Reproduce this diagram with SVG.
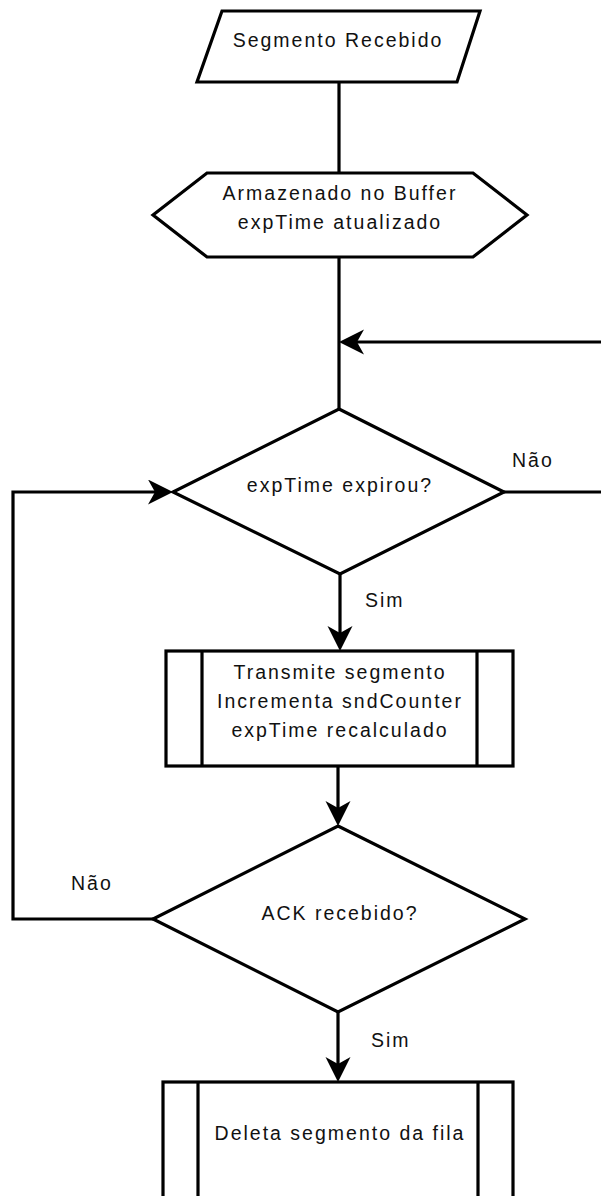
<svg xmlns="http://www.w3.org/2000/svg" width="601" height="1196" viewBox="0 0 601 1196">
<defs>
<style>
.shape{fill:#fff;stroke:#000;stroke-width:3.2;stroke-linejoin:miter}
.ln{fill:none;stroke:#000;stroke-width:3.2}
.t{font-family:"Liberation Sans",Arial,sans-serif;font-size:19.5px;letter-spacing:2px;fill:#111}
.c{text-anchor:middle}
</style>
<marker id="arr" markerUnits="userSpaceOnUse" markerWidth="26" markerHeight="26" refX="15" refY="12.5" orient="auto">
<path d="M0,0 L25,12.5 L0,25 L7,12.5 z" fill="#000"/>
</marker>
</defs>
<g id="connectors">
<path class="ln" d="M339,82 V173"/>
<path class="ln" d="M339,257 V409"/>
<path class="ln" d="M601,342 H349" marker-end="url(#arr)"/>
<path class="ln" d="M504,492 H601"/>
<path class="ln" d="M340,574 V641" marker-end="url(#arr)"/>
<path class="ln" d="M338,766 V816" marker-end="url(#arr)"/>
<path class="ln" d="M153,919 H13 V492 H163" marker-end="url(#arr)"/>
<path class="ln" d="M338,1012 V1072" marker-end="url(#arr)"/>
</g>
<g id="labels">
<text class="t" x="512" y="467">Não</text>
<text class="t" x="365" y="607">Sim</text>
<text class="t" x="71" y="890">Não</text>
<text class="t" x="371" y="1047">Sim</text>
</g>
<g id="start">
<polygon class="shape" points="222,11 480,11 457,82 197,82"/>
<text class="t c" x="338" y="47">Segmento Recebido</text>
</g>
<g id="buffer">
<polygon class="shape" points="153,215 207,173 473,173 527,215 473,257 207,257"/>
<text class="t c" x="340" y="200">Armazenado no Buffer</text>
<text class="t c" x="340" y="229">expTime atualizado</text>
</g>
<g id="expired">
<polygon class="shape" points="339,409 504,492 340,574 173,492"/>
<text class="t c" x="340" y="492">expTime expirou?</text>
</g>
<g id="transmit">
<rect class="shape" x="166" y="651" width="347" height="115"/>
<path class="ln" d="M202,651 V766 M477,651 V766"/>
<text class="t c" x="340" y="679">Transmite segmento</text>
<text class="t c" x="340" y="708">Incrementa sndCounter</text>
<text class="t c" x="340" y="737">expTime recalculado</text>
</g>
<g id="ack">
<polygon class="shape" points="338,826 525,919 338,1012 153,919"/>
<text class="t c" x="340" y="920">ACK recebido?</text>
</g>
<g id="delete">
<rect class="shape" x="163" y="1082" width="350" height="200"/>
<path class="ln" d="M198,1082 V1282 M478,1082 V1282"/>
<text class="t c" x="340" y="1140">Deleta segmento da fila</text>
</g>
</svg>
